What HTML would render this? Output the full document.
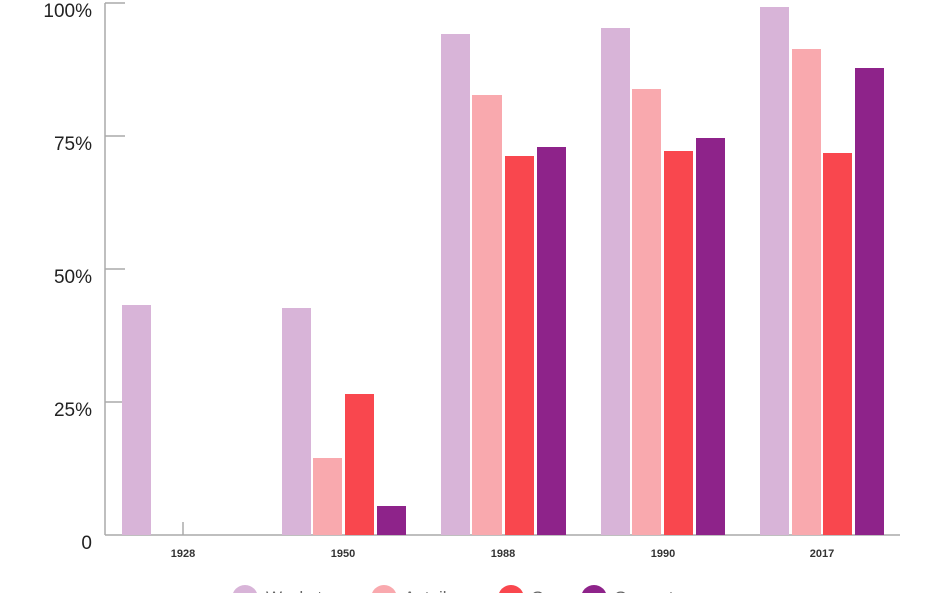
<!DOCTYPE html><html><head><style>body{margin:0;background:#fff;width:948px;height:593px;overflow:hidden}</style></head><body>
<svg width="948" height="593" xmlns="http://www.w3.org/2000/svg" font-family="Liberation Sans, sans-serif">
<line x1="105" y1="3" x2="105" y2="535" stroke="#aaa" stroke-width="1.5"/>
<line x1="105" y1="535" x2="900" y2="535" stroke="#aaa" stroke-width="1.5"/>
<g stroke="#aaa" stroke-width="1.5"><line x1="105" y1="3" x2="125" y2="3"/><line x1="105" y1="136" x2="125" y2="136"/><line x1="105" y1="269" x2="125" y2="269"/><line x1="105" y1="402" x2="125" y2="402"/><line x1="183" y1="522" x2="183" y2="535"/></g>
<g font-size="19" fill="#222" text-anchor="end"><text x="92" y="17">100%</text><text x="92" y="150">75%</text><text x="92" y="283">50%</text><text x="92" y="416">25%</text><text x="92" y="549">0</text></g>
<g fill="#d8b4d8"><rect x="122" y="305" width="29" height="230"/><rect x="282" y="308" width="29" height="227"/><rect x="441" y="34" width="29" height="501"/><rect x="601" y="28" width="29" height="507"/><rect x="760" y="7" width="29" height="528"/></g>
<g fill="#f9a9ae"><rect x="313" y="458" width="29" height="77"/><rect x="472" y="95" width="30" height="440"/><rect x="632" y="89" width="29" height="446"/><rect x="792" y="49" width="29" height="486"/></g>
<g fill="#f9474e"><rect x="345" y="394" width="29" height="141"/><rect x="505" y="156" width="29" height="379"/><rect x="664" y="151" width="29" height="384"/><rect x="823" y="153" width="29" height="382"/></g>
<g fill="#8e238a"><rect x="377" y="506" width="29" height="29"/><rect x="537" y="147" width="29" height="388"/><rect x="696" y="138" width="29" height="397"/><rect x="855" y="68" width="29" height="467"/></g>
<g font-size="11" font-weight="bold" fill="#333" text-anchor="middle"><text x="183" y="557">1928</text><text x="343" y="557">1950</text><text x="503" y="557">1988</text><text x="663" y="557">1990</text><text x="822" y="557">2017</text></g>
<circle cx="245" cy="598" r="13" fill="#d8b4d8"/><circle cx="384" cy="598" r="13" fill="#f9a9ae"/><circle cx="511" cy="598" r="13" fill="#f9474e"/><circle cx="594" cy="598" r="13" fill="#8e238a"/>
<g font-size="17" fill="#666"><text x="266" y="603">Wachstum</text><text x="404" y="603">Anteil</text><text x="531" y="603">Gas</text><text x="614" y="603">Gesamt</text></g>
</svg></body></html>
